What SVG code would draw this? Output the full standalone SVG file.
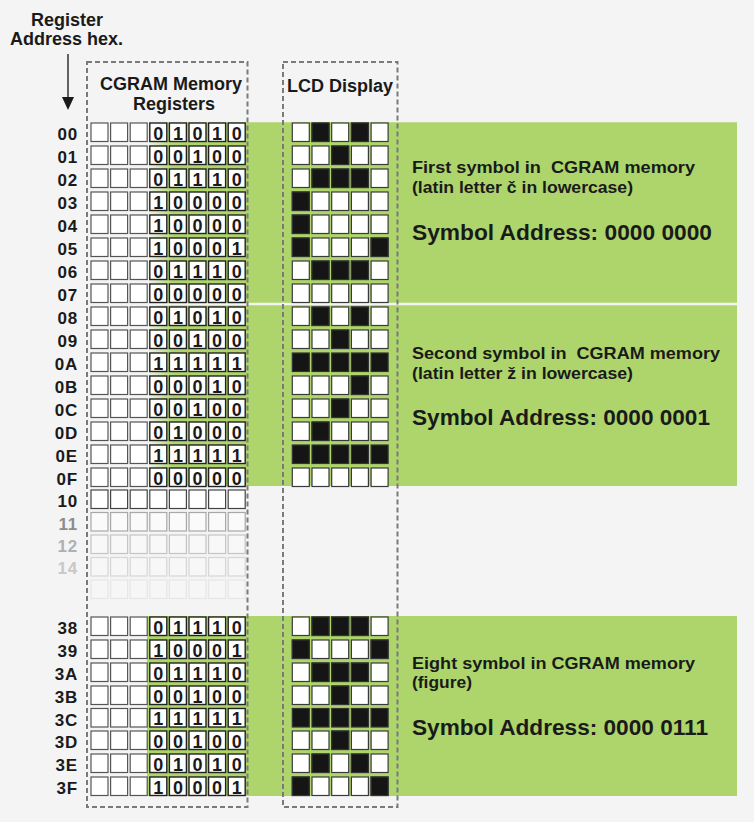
<svg xmlns="http://www.w3.org/2000/svg" xmlns:xlink="http://www.w3.org/1999/xlink" width="754" height="822" viewBox="0 0 754 822">
<style>
text{font-family:"Liberation Sans",Arial,sans-serif;font-weight:bold;fill:#1a1a1a}
.lbl{font-size:17px;text-anchor:end;letter-spacing:0.8px}
.d{font-size:18px;text-anchor:middle}
.t{font-size:18px;text-anchor:middle}
.s{font-size:16.5px}
.a{font-size:22px}
.e{fill:#fff;stroke:#555;stroke-width:1.2}
.b{fill:#fff;stroke:#222;stroke-width:1.4}
.w{fill:#fff;stroke:#3a3a3a;stroke-width:1.2}
.k{fill:#151515;stroke:#333;stroke-width:1.2}
.box{fill:none;stroke:#7a7a7a;stroke-width:2;stroke-dasharray:5 3}
.band{fill:#add56b}
</style>
<defs>
<linearGradient id="fade" gradientUnits="userSpaceOnUse" x1="147" y1="0" x2="174" y2="0">
<stop offset="0" stop-color="#add56b" stop-opacity="0"/>
<stop offset="1" stop-color="#add56b"/>
</linearGradient>
<g id="e3"><rect x="91" y="0" width="17" height="18.5"/><rect x="110.6" y="0" width="17" height="18.5"/><rect x="130.2" y="0" width="17" height="18.5"/></g>
<g id="b5"><rect x="149.8" y="0" width="17" height="18.5"/><rect x="169.4" y="0" width="17" height="18.5"/><rect x="189" y="0" width="17" height="18.5"/><rect x="208.6" y="0" width="17" height="18.5"/><rect x="228.2" y="0" width="17" height="18.5"/></g>
<g id="e8"><use xlink:href="#e3"/><use xlink:href="#b5"/></g>
<g id="w5"><rect x="292.3" y="0" width="17" height="18.5"/><rect x="312" y="0" width="17" height="18.5"/><rect x="331.7" y="0" width="17" height="18.5"/><rect x="351.4" y="0" width="17" height="18.5"/><rect x="371.1" y="0" width="17" height="18.5"/></g>
</defs>
<rect width="754" height="822" fill="#f4f4f4"/>

<g id="bands">
<rect x="147" y="122.5" width="590" height="180" fill="url(#fade)"/>
<rect x="247" y="122.5" width="490" height="180" class="band"/>
<rect x="147" y="305.5" width="590" height="180.5" fill="url(#fade)"/>
<rect x="247" y="305.5" width="490" height="180.5" class="band"/>
<rect x="147" y="616" width="590" height="180" class="band"/>
</g>

<g id="header">
<text class="t" x="67" y="26">Register</text>
<text class="t" x="66.5" y="45">Address hex.</text>
</g>

<g id="connectors">
<line x1="68" y1="54" x2="68" y2="98" stroke="#333" stroke-width="1.5"/>
<polygon points="62,97 74,97 68,110" fill="#1a1a1a"/>
</g>

<g id="cgram-box">
<rect class="box" x="87" y="62" width="160.5" height="745"/>
<text class="t" x="171" y="90">CGRAM Memory</text>
<text class="t" x="174" y="110">Registers</text>
</g>

<g id="lcd-box">
<rect class="box" x="283" y="62" width="114.5" height="745"/>
<text class="t" x="340" y="92">LCD Display</text>
</g>

<g id="rows-symbol1">
<g id="r00"><text class="lbl" x="78" y="140">00</text><use xlink:href="#e3" y="123" class="e"/><use xlink:href="#b5" y="123" class="b"/><text class="d" x="158.3 177.9 197.5 217.1 236.7" y="139.5">01010</text><use xlink:href="#w5" y="123" class="w"/><rect class="k" x="312" y="123" width="17" height="18.5"/><rect class="k" x="351.4" y="123" width="17" height="18.5"/></g>
<g id="r01"><text class="lbl" x="78" y="163">01</text><use xlink:href="#e3" y="146" class="e"/><use xlink:href="#b5" y="146" class="b"/><text class="d" x="158.3 177.9 197.5 217.1 236.7" y="162.5">00100</text><use xlink:href="#w5" y="146" class="w"/><rect class="k" x="331.7" y="146" width="17" height="18.5"/></g>
<g id="r02"><text class="lbl" x="78" y="186">02</text><use xlink:href="#e3" y="169" class="e"/><use xlink:href="#b5" y="169" class="b"/><text class="d" x="158.3 177.9 197.5 217.1 236.7" y="185.5">01110</text><use xlink:href="#w5" y="169" class="w"/><rect class="k" x="312" y="169" width="17" height="18.5"/><rect class="k" x="331.7" y="169" width="17" height="18.5"/><rect class="k" x="351.4" y="169" width="17" height="18.5"/></g>
<g id="r03"><text class="lbl" x="78" y="209">03</text><use xlink:href="#e3" y="192" class="e"/><use xlink:href="#b5" y="192" class="b"/><text class="d" x="158.3 177.9 197.5 217.1 236.7" y="208.5">10000</text><use xlink:href="#w5" y="192" class="w"/><rect class="k" x="292.3" y="192" width="17" height="18.5"/></g>
<g id="r04"><text class="lbl" x="78" y="232">04</text><use xlink:href="#e3" y="215" class="e"/><use xlink:href="#b5" y="215" class="b"/><text class="d" x="158.3 177.9 197.5 217.1 236.7" y="231.5">10000</text><use xlink:href="#w5" y="215" class="w"/><rect class="k" x="292.3" y="215" width="17" height="18.5"/></g>
<g id="r05"><text class="lbl" x="78" y="255">05</text><use xlink:href="#e3" y="238" class="e"/><use xlink:href="#b5" y="238" class="b"/><text class="d" x="158.3 177.9 197.5 217.1 236.7" y="254.5">10001</text><use xlink:href="#w5" y="238" class="w"/><rect class="k" x="292.3" y="238" width="17" height="18.5"/><rect class="k" x="371.1" y="238" width="17" height="18.5"/></g>
<g id="r06"><text class="lbl" x="78" y="278">06</text><use xlink:href="#e3" y="261" class="e"/><use xlink:href="#b5" y="261" class="b"/><text class="d" x="158.3 177.9 197.5 217.1 236.7" y="277.5">01110</text><use xlink:href="#w5" y="261" class="w"/><rect class="k" x="312" y="261" width="17" height="18.5"/><rect class="k" x="331.7" y="261" width="17" height="18.5"/><rect class="k" x="351.4" y="261" width="17" height="18.5"/></g>
<g id="r07"><text class="lbl" x="78" y="301">07</text><use xlink:href="#e3" y="284" class="e"/><use xlink:href="#b5" y="284" class="b"/><text class="d" x="158.3 177.9 197.5 217.1 236.7" y="300.5">00000</text><use xlink:href="#w5" y="284" class="w"/></g>
<text class="s" x="412" y="173" textLength="283" lengthAdjust="spacingAndGlyphs" xml:space="preserve">First symbol in  CGRAM memory</text>
<text class="s" x="412" y="193" textLength="221" lengthAdjust="spacingAndGlyphs">(latin letter č in lowercase)</text>
<text class="a" x="412" y="240" textLength="300" lengthAdjust="spacingAndGlyphs">Symbol Address: 0000 0000</text>
</g>

<g id="rows-symbol2">
<g id="r08"><text class="lbl" x="78" y="324">08</text><use xlink:href="#e3" y="307" class="e"/><use xlink:href="#b5" y="307" class="b"/><text class="d" x="158.3 177.9 197.5 217.1 236.7" y="323.5">01010</text><use xlink:href="#w5" y="307" class="w"/><rect class="k" x="312" y="307" width="17" height="18.5"/><rect class="k" x="351.4" y="307" width="17" height="18.5"/></g>
<g id="r09"><text class="lbl" x="78" y="347">09</text><use xlink:href="#e3" y="330" class="e"/><use xlink:href="#b5" y="330" class="b"/><text class="d" x="158.3 177.9 197.5 217.1 236.7" y="346.5">00100</text><use xlink:href="#w5" y="330" class="w"/><rect class="k" x="331.7" y="330" width="17" height="18.5"/></g>
<g id="r0A"><text class="lbl" x="78" y="370">0A</text><use xlink:href="#e3" y="353" class="e"/><use xlink:href="#b5" y="353" class="b"/><text class="d" x="158.3 177.9 197.5 217.1 236.7" y="369.5">11111</text><use xlink:href="#w5" y="353" class="k"/></g>
<g id="r0B"><text class="lbl" x="78" y="393">0B</text><use xlink:href="#e3" y="376" class="e"/><use xlink:href="#b5" y="376" class="b"/><text class="d" x="158.3 177.9 197.5 217.1 236.7" y="392.5">00010</text><use xlink:href="#w5" y="376" class="w"/><rect class="k" x="351.4" y="376" width="17" height="18.5"/></g>
<g id="r0C"><text class="lbl" x="78" y="416">0C</text><use xlink:href="#e3" y="399" class="e"/><use xlink:href="#b5" y="399" class="b"/><text class="d" x="158.3 177.9 197.5 217.1 236.7" y="415.5">00100</text><use xlink:href="#w5" y="399" class="w"/><rect class="k" x="331.7" y="399" width="17" height="18.5"/></g>
<g id="r0D"><text class="lbl" x="78" y="439">0D</text><use xlink:href="#e3" y="422" class="e"/><use xlink:href="#b5" y="422" class="b"/><text class="d" x="158.3 177.9 197.5 217.1 236.7" y="438.5">01000</text><use xlink:href="#w5" y="422" class="w"/><rect class="k" x="312" y="422" width="17" height="18.5"/></g>
<g id="r0E"><text class="lbl" x="78" y="462">0E</text><use xlink:href="#e3" y="445" class="e"/><use xlink:href="#b5" y="445" class="b"/><text class="d" x="158.3 177.9 197.5 217.1 236.7" y="461.5">11111</text><use xlink:href="#w5" y="445" class="k"/></g>
<g id="r0F"><text class="lbl" x="78" y="485">0F</text><use xlink:href="#e3" y="468" class="e"/><use xlink:href="#b5" y="468" class="b"/><text class="d" x="158.3 177.9 197.5 217.1 236.7" y="484.5">00000</text><use xlink:href="#w5" y="468" class="w"/></g>
<text class="s" x="412" y="359" textLength="308" lengthAdjust="spacingAndGlyphs" xml:space="preserve">Second symbol in  CGRAM memory</text>
<text class="s" x="412" y="379" textLength="221" lengthAdjust="spacingAndGlyphs">(latin letter ž in lowercase)</text>
<text class="a" x="412" y="425" textLength="298" lengthAdjust="spacingAndGlyphs">Symbol Address: 0000 0001</text>
</g>

<g id="rows-unused">
<g id="r10"><text class="lbl" x="78" y="507">10</text><use xlink:href="#e8" y="490" fill="#fff" stroke="#444" stroke-width="1.2"/></g>
<g id="r11"><text class="lbl" x="78" y="530" style="fill:#8c8c8c">11</text><use xlink:href="#e8" y="512.5" fill="#fafafa" stroke="#a8a8a8" stroke-width="1.2"/></g>
<g id="r12"><text class="lbl" x="78" y="552" style="fill:#b0b0b0">12</text><use xlink:href="#e8" y="535" fill="#f8f8f8" stroke="#c4c4c4" stroke-width="1.2"/></g>
<g id="r14"><text class="lbl" x="78" y="574" style="fill:#c8c8c8">14</text><use xlink:href="#e8" y="557.5" fill="#f7f7f7" stroke="#d6d6d6" stroke-width="1.2"/></g>
<g id="r15"><use xlink:href="#e8" y="580" fill="#f6f6f6" stroke="#e6e6e6" stroke-width="1.2"/></g>
</g>

<g id="rows-symbol8">
<g id="r38"><text class="lbl" x="78" y="634">38</text><use xlink:href="#e3" y="617" class="e"/><use xlink:href="#b5" y="617" class="b"/><text class="d" x="158.3 177.9 197.5 217.1 236.7" y="633.5">01110</text><use xlink:href="#w5" y="617" class="w"/><rect class="k" x="312" y="617" width="17" height="18.5"/><rect class="k" x="331.7" y="617" width="17" height="18.5"/><rect class="k" x="351.4" y="617" width="17" height="18.5"/></g>
<g id="r39"><text class="lbl" x="78" y="657">39</text><use xlink:href="#e3" y="640" class="e"/><use xlink:href="#b5" y="640" class="b"/><text class="d" x="158.3 177.9 197.5 217.1 236.7" y="656.5">10001</text><use xlink:href="#w5" y="640" class="w"/><rect class="k" x="292.3" y="640" width="17" height="18.5"/><rect class="k" x="371.1" y="640" width="17" height="18.5"/></g>
<g id="r3A"><text class="lbl" x="78" y="680">3A</text><use xlink:href="#e3" y="663" class="e"/><use xlink:href="#b5" y="663" class="b"/><text class="d" x="158.3 177.9 197.5 217.1 236.7" y="679.5">01110</text><use xlink:href="#w5" y="663" class="w"/><rect class="k" x="312" y="663" width="17" height="18.5"/><rect class="k" x="331.7" y="663" width="17" height="18.5"/><rect class="k" x="351.4" y="663" width="17" height="18.5"/></g>
<g id="r3B"><text class="lbl" x="78" y="703">3B</text><use xlink:href="#e3" y="686" class="e"/><use xlink:href="#b5" y="686" class="b"/><text class="d" x="158.3 177.9 197.5 217.1 236.7" y="702.5">00100</text><use xlink:href="#w5" y="686" class="w"/><rect class="k" x="331.7" y="686" width="17" height="18.5"/></g>
<g id="r3C"><text class="lbl" x="78" y="725.5">3C</text><use xlink:href="#e3" y="708.5" class="e"/><use xlink:href="#b5" y="708.5" class="b"/><text class="d" x="158.3 177.9 197.5 217.1 236.7" y="725">11111</text><use xlink:href="#w5" y="708.5" class="k"/></g>
<g id="r3D"><text class="lbl" x="78" y="748">3D</text><use xlink:href="#e3" y="731" class="e"/><use xlink:href="#b5" y="731" class="b"/><text class="d" x="158.3 177.9 197.5 217.1 236.7" y="747.5">00100</text><use xlink:href="#w5" y="731" class="w"/><rect class="k" x="331.7" y="731" width="17" height="18.5"/></g>
<g id="r3E"><text class="lbl" x="78" y="771">3E</text><use xlink:href="#e3" y="754" class="e"/><use xlink:href="#b5" y="754" class="b"/><text class="d" x="158.3 177.9 197.5 217.1 236.7" y="770.5">01010</text><use xlink:href="#w5" y="754" class="w"/><rect class="k" x="312" y="754" width="17" height="18.5"/><rect class="k" x="351.4" y="754" width="17" height="18.5"/></g>
<g id="r3F"><text class="lbl" x="78" y="794">3F</text><use xlink:href="#e3" y="777" class="e"/><use xlink:href="#b5" y="777" class="b"/><text class="d" x="158.3 177.9 197.5 217.1 236.7" y="793.5">10001</text><use xlink:href="#w5" y="777" class="w"/><rect class="k" x="292.3" y="777" width="17" height="18.5"/><rect class="k" x="371.1" y="777" width="17" height="18.5"/></g>
<text class="s" x="412" y="669" textLength="283" lengthAdjust="spacingAndGlyphs">Eight symbol in CGRAM memory</text>
<text class="s" x="412" y="688" textLength="60" lengthAdjust="spacingAndGlyphs">(figure)</text>
<text class="a" x="412" y="735" textLength="296" lengthAdjust="spacingAndGlyphs">Symbol Address: 0000 0111</text>
</g>
</svg>
